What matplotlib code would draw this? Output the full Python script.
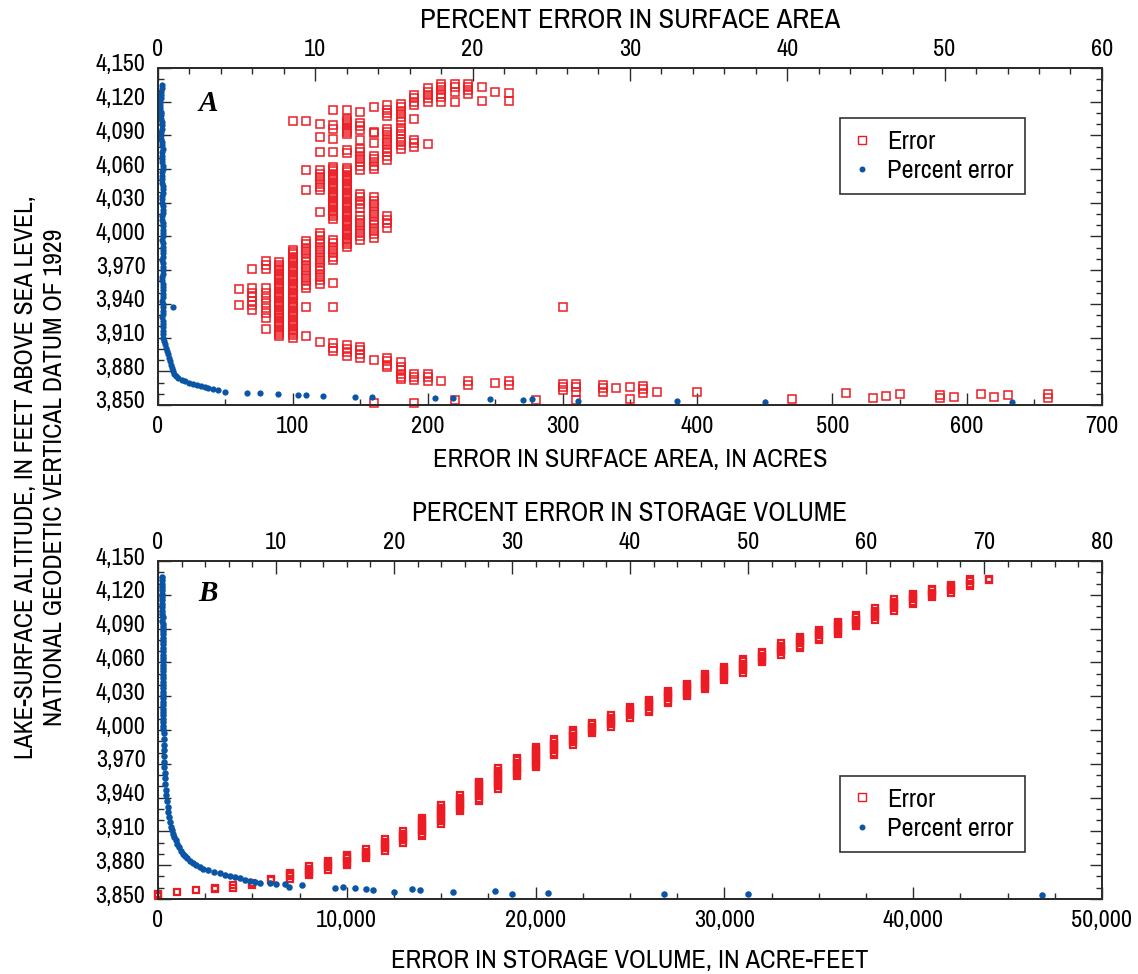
import matplotlib
matplotlib.use("Agg")
import matplotlib.pyplot as plt
import matplotlib.ticker as mticker
from matplotlib.lines import Line2D
from matplotlib.transforms import ScaledTranslation

plt.rcParams['font.family'] = ['Archivo Narrow', 'DejaVu Sans']

RED = '#ec1c24'
BLUE = '#0a55a5'
INK = '#2b2b2b'

# ---- panel A: error in surface area (acres) by lake altitude ----
area_cols = [60, 70, 80, 90, 100, 110, 120, 130, 140, 150, 160, 170, 180, 190,
             200, 210, 220, 230, 240, 250, 260, 280, 300, 310, 330, 340, 350,
             360, 370, 400, 470, 510, 530, 540, 550, 580, 590, 610, 620, 630, 660]
area_col_alts = [
    [3953, 3939],
    [3971, 3954, 3950, 3946, 3943, 3939, 3935],
    [3978, 3975, 3971, 3954, 3950, 3945, 3941, 3936, 3932, 3927, 3918],
    [3977, 3975, 3973, 3971, 3969, 3967, 3965, 3963, 3961, 3959, 3957, 3955,
     3953, 3951, 3949, 3947, 3945, 3943, 3941, 3939, 3937, 3935, 3933, 3931,
     3929, 3927, 3925, 3923, 3921, 3919, 3917, 3915, 3913, 3911],
    [4103, 3988, 3986, 3984, 3982, 3980, 3978, 3976, 3974, 3972, 3970, 3968,
     3966, 3964, 3962, 3960, 3958, 3956, 3954, 3952, 3950, 3948, 3946, 3944,
     3942, 3940, 3938, 3936, 3934, 3932, 3930, 3928, 3926, 3924, 3922, 3920,
     3918, 3916, 3914, 3912, 3910],
    [4103, 4059, 4041, 3996, 3993, 3990, 3987, 3984, 3981, 3978, 3975, 3972,
     3969, 3966, 3963, 3960, 3957, 3954, 3937, 3911],
    [4100, 4089, 4075, 4059, 4056, 4053, 4050, 4047, 4044, 4041, 4022, 4003,
     4000, 3997, 3994, 3991, 3988, 3985, 3982, 3979, 3976, 3973, 3970, 3967,
     3964, 3961, 3958, 3906],
    [4113, 4099, 4096, 4087, 4075, 4062, 4060, 4058, 4056, 4054, 4052, 4050,
     4048, 4046, 4044, 4042, 4040, 4038, 4036, 4034, 4032, 4030, 4028, 4026,
     4024, 4022, 4020, 4018, 4016, 3997, 3994, 3991, 3988, 3985, 3982, 3979,
     3959, 3937, 3905, 3901, 3898],
    [4113, 4105, 4103, 4101, 4099, 4097, 4095, 4093, 4091, 4077, 4074, 4061,
     4059, 4057, 4055, 4053, 4051, 4049, 4047, 4045, 4043, 4041, 4039, 4037,
     4035, 4033, 4031, 4029, 4027, 4025, 4023, 4021, 4019, 4017, 4015, 4013,
     4011, 4009, 4007, 4005, 4003, 4001, 3999, 3997, 3995, 3993, 3991, 3903,
     3900, 3897, 3894],
    [4111, 4101, 4098, 4095, 4086, 4078, 4075, 4072, 4069, 4066, 4063, 4059,
     4038, 4035, 4032, 4029, 4025, 4018, 4015, 4012, 4009, 4006, 4003, 4000,
     3997, 3902, 3899, 3895, 3892],
    [4115, 4093, 4092, 4083, 4072, 4069, 4066, 4063, 4060, 4035, 4032, 4029,
     4026, 4023, 4020, 4017, 4014, 4011, 4008, 4005, 4002, 3999, 3890, 3852],
    [4117, 4113, 4110, 4107, 4096, 4093, 4090, 4087, 4084, 4081, 4078, 4075,
     4072, 4068, 4018, 4015, 4012, 4008, 3892, 3889, 3886, 3884],
    [4118, 4115, 4112, 4109, 4106, 4103, 4097, 4094, 4091, 4087, 4084, 4081,
     4078, 3888, 3884, 3881, 3878, 3875, 3873],
    [4126, 4123, 4120, 4117, 4105, 4086, 4083, 4080, 3878, 3875, 3872, 3852],
    [4132, 4129, 4126, 4123, 4120, 4082, 3878, 3875, 3871],
    [4136, 4133, 4130, 4127, 4124, 4120, 3871],
    [4136, 4133, 4129, 4120, 3854],
    [4136, 4133, 4130, 4127, 3871, 3868],
    [4133, 4121],
    [4129, 3870],
    [4128, 4121, 3871, 3868],
    [3854],
    [3937, 3869, 3866, 3863],
    [3869, 3866, 3862, 3854],
    [3868, 3865, 3862],
    [3865],
    [3866, 3855],
    [3867, 3864, 3861],
    [3862],
    [3862],
    [3855],
    [3861],
    [3856],
    [3858],
    [3860],
    [3859, 3856],
    [3857],
    [3860],
    [3857],
    [3859],
    [3860, 3856],
]

# percent error in surface area
area_pct_alt = [
    4135, 4132, 4129, 4126, 4123, 4120, 4117, 4114, 4111, 4108,
    4105, 4102, 4099, 4096, 4093, 4090, 4087, 4084, 4081, 4078,
    4075, 4072, 4069, 4066, 4063, 4060, 4057, 4054, 4051, 4048,
    4045, 4042, 4039, 4036, 4033, 4030, 4027, 4024, 4021, 4018,
    4015, 4012, 4009, 4006, 4003, 4000, 3997, 3994, 3991, 3988,
    3985, 3982, 3979, 3976, 3973, 3970, 3967, 3964, 3961, 3958,
    3955, 3952, 3949, 3946, 3943, 3940, 3937, 3934, 3931, 3928,
    3925, 3922, 3919, 3916,
    3913, 3910, 3907, 3904, 3901, 3898, 3895, 3892, 3889, 3886,
    3883, 3880, 3878, 3876, 3874, 3872.5, 3871, 3870, 3869, 3868,
    3867, 3866, 3865, 3864, 3863, 3861.6, 3860.7, 3860.7, 3859.8, 3858.9,
    3858.9, 3858.0, 3857.1, 3857.1, 3856.2, 3856.2, 3855.3, 3854.5, 3855.3, 3853.6,
    3853.6, 3852.7, 3852.7, 3937,
]
area_pct = [
    0.27, 0.25, 0.22, 0.20, 0.18, 0.15, 0.14, 0.16, 0.18, 0.20,
    0.22, 0.25, 0.27, 0.24, 0.21, 0.19, 0.22, 0.26, 0.28, 0.30,
    0.28, 0.25, 0.23, 0.26, 0.29, 0.31, 0.28, 0.26, 0.24, 0.27,
    0.30, 0.32, 0.29, 0.27, 0.25, 0.28, 0.31, 0.33, 0.30, 0.28,
    0.26, 0.29, 0.32, 0.34, 0.31, 0.29, 0.27, 0.30, 0.33, 0.35,
    0.32, 0.30, 0.28, 0.31, 0.34, 0.32, 0.30, 0.28, 0.27, 0.29,
    0.31, 0.33, 0.31, 0.29, 0.28, 0.30, 0.32, 0.30, 0.29, 0.28,
    0.29, 0.30, 0.29, 0.29,
    0.30, 0.34, 0.40, 0.45, 0.52, 0.58, 0.65, 0.72, 0.78, 0.84,
    0.90, 0.96, 1.05, 1.15, 1.30, 1.50, 1.70, 1.95, 2.20, 2.50,
    2.75, 3.00, 3.20, 3.50, 3.80, 4.26, 5.66, 6.48, 7.63, 8.90,
    9.41, 10.49, 12.52, 13.60, 17.6, 18.75, 21.1, 23.2, 23.8, 26.7,
    33.0, 38.6, 54.3, 0.93,
]

# ---- panel B: error in storage volume (acre-feet) by lake altitude ----
vol_cols = [0, 1000, 2000, 3000, 4000, 5000, 6000, 7000, 8000, 9000, 10000,
            11000, 12000, 13000, 14000, 15000, 16000, 17000, 18000, 19000,
            20000, 21000, 22000, 23000, 24000, 25000, 26000, 27000, 28000,
            29000, 30000, 31000, 32000, 33000, 34000, 35000, 36000, 37000,
            38000, 39000, 40000, 41000, 42000, 43000, 44000]
vol_col_alts = [
    [3853, 3854],
    [3856],
    [3858],
    [3859, 3860],
    [3860, 3862],
    [3862, 3864],
    [3867, 3868],
    [3868, 3870, 3872, 3873],
    [3871, 3873, 3875, 3877, 3879],
    [3876, 3878, 3880, 3882, 3884],
    [3880, 3882, 3884, 3886, 3888, 3889],
    [3886, 3888, 3890, 3892, 3894],
    [3893, 3895, 3897, 3899, 3901, 3903],
    [3900, 3902, 3904, 3906, 3908, 3910],
    [3906, 3908, 3910, 3912, 3914, 3916, 3918, 3920, 3922],
    [3917, 3919, 3921, 3923, 3925, 3927, 3929, 3931, 3933],
    [3928, 3930, 3932, 3934, 3936, 3938, 3940, 3942],
    [3937, 3939, 3941, 3943, 3945, 3947, 3949, 3951, 3953, 3954],
    [3948, 3950, 3952, 3954, 3956, 3958, 3960, 3962, 3964, 3966],
    [3959, 3961, 3963, 3965, 3967, 3969, 3971, 3973, 3975],
    [3967, 3969, 3971, 3973, 3975, 3977, 3979, 3981, 3983, 3985],
    [3978, 3980, 3982, 3984, 3986, 3988, 3990, 3992],
    [3987, 3989, 3991, 3993, 3995, 3997, 3999, 4000],
    [3997, 3999, 4001, 4003, 4005, 4006],
    [4003, 4005, 4007, 4009, 4011, 4013],
    [4011, 4013, 4015, 4017, 4019, 4020],
    [4016, 4018, 4020, 4022, 4024, 4026, 4027],
    [4024, 4026, 4028, 4030, 4032, 4034, 4035],
    [4030, 4032, 4034, 4036, 4038, 4040, 4041],
    [4036, 4038, 4040, 4042, 4044, 4046, 4048, 4050],
    [4044, 4046, 4048, 4050, 4052, 4054, 4056],
    [4051, 4053, 4055, 4057, 4059, 4061, 4063],
    [4060, 4062, 4064, 4066, 4068, 4069],
    [4067, 4069, 4071, 4073, 4075, 4077],
    [4073, 4075, 4077, 4079, 4081, 4083],
    [4080, 4082, 4084, 4086, 4088, 4089],
    [4085, 4087, 4089, 4091, 4093, 4095, 4096],
    [4092, 4094, 4096, 4098, 4100, 4102],
    [4098, 4100, 4102, 4104, 4106, 4108],
    [4106, 4108, 4110, 4112, 4114, 4116],
    [4112, 4114, 4116, 4118, 4120, 4121],
    [4118, 4120, 4122, 4124, 4125],
    [4122, 4124, 4126, 4128, 4129],
    [4128, 4130, 4132, 4134],
    [4133, 4134],
]

# percent error in storage volume
vol_pct_alt = [
    4136, 4133, 4130, 4127, 4124, 4121, 4118, 4115, 4112, 4109,
    4106, 4103, 4100, 4097, 4094, 4091, 4088, 4085, 4082, 4079,
    4076, 4073, 4070, 4067, 4064, 4061, 4058, 4055, 4052, 4049,
    4046, 4043, 4040, 4037, 4034, 4031, 4028, 4025, 4022, 4019,
    4016, 4013, 4010, 4007, 4004, 4001,
    3997, 3992, 3987, 3982, 3977, 3972, 3967, 3962, 3957, 3952,
    3947, 3942, 3937, 3932, 3927, 3923, 3918, 3914, 3911, 3908,
    3905, 3902, 3899, 3896, 3893, 3890, 3888, 3886, 3884, 3882,
    3880, 3878.7, 3877, 3875.7, 3874, 3872.8, 3871.5, 3870.4, 3869.3, 3868.3,
    3867.3, 3866.3, 3865.4, 3864.5, 3863.9, 3863.3, 3863.3, 3861, 3862.4, 3859.5,
    3861, 3860, 3858.9, 3858, 3856.5, 3858.9, 3858, 3855.9, 3857.1, 3854.4,
    3855.6, 3854.1, 3854.1, 3853.3,
]
vol_pct = [
    0.33, 0.34, 0.35, 0.36, 0.35, 0.36, 0.37, 0.36, 0.37, 0.38,
    0.37, 0.38, 0.39, 0.38, 0.39, 0.40, 0.39, 0.40, 0.40, 0.41,
    0.40, 0.41, 0.41, 0.42, 0.41, 0.42, 0.42, 0.43, 0.42, 0.43,
    0.43, 0.43, 0.44, 0.43, 0.44, 0.44, 0.44, 0.45, 0.44, 0.45,
    0.45, 0.45, 0.45, 0.46, 0.46, 0.46,
    0.47, 0.49, 0.50, 0.51, 0.52, 0.53, 0.54, 0.56, 0.58, 0.62,
    0.66, 0.70, 0.77, 0.82, 0.88, 0.93, 1.00, 1.07, 1.17, 1.30,
    1.40, 1.52, 1.65, 1.80, 1.97, 2.15, 2.30, 2.49, 2.70, 2.95,
    3.25, 3.56, 3.85, 4.27, 4.75, 5.25, 5.65, 6.10, 6.50, 6.95,
    7.40, 7.80, 8.20, 8.64, 9.50, 10.0, 10.76, 11.13, 12.23, 15.0,
    15.65, 16.7, 17.63, 18.2, 20.03, 21.5, 22.2, 25.0, 28.56, 29.97,
    33.08, 42.9, 49.98, 74.96,
]


def flatten(cols, col_alts):
    xs, ys = [], []
    for x, alts in zip(cols, col_alts):
        for a in alts:
            xs.append(x)
            ys.append(a)
    return xs, ys


def style_axes(ax, top, xmax, xmajor, xminor, tmax, tmajor, tminor, fmt_x):
    ax.set_ylim(3850, 4150)
    ax.set_xlim(0, xmax)
    top.set_xlim(0, tmax)
    ax.yaxis.set_major_locator(mticker.MultipleLocator(30, offset=10))
    ax.yaxis.set_minor_locator(mticker.MultipleLocator(10))
    ax.yaxis.set_major_formatter(mticker.FuncFormatter(lambda v, p: f'{v:,.0f}'))
    ax.xaxis.set_major_locator(mticker.MultipleLocator(xmajor))
    ax.xaxis.set_minor_locator(mticker.MultipleLocator(xminor))
    ax.xaxis.set_major_formatter(mticker.FuncFormatter(fmt_x))
    top.xaxis.set_major_locator(mticker.MultipleLocator(tmajor))
    top.xaxis.set_minor_locator(mticker.MultipleLocator(tminor))
    for a in (ax, top):
        for s in a.spines.values():
            s.set_linewidth(1.3)
            s.set_color(INK)
    ax.tick_params(axis='both', which='both', direction='in', color=INK,
                   width=1.0, labelsize=17.5, labelcolor='black')
    ax.tick_params(axis='y', which='both', left=True, right=True, pad=9)
    ax.tick_params(axis='x', which='both', top=False, pad=8)
    ax.tick_params(which='major', length=9)
    ax.tick_params(which='minor', length=4.5)
    top.tick_params(axis='x', which='both', direction='in', color=INK,
                    width=1.0, labelsize=17.5, pad=6)
    top.tick_params(which='major', length=9)
    top.tick_params(which='minor', length=4.5)
    # tick labels sit a little above their ticks in the original
    off = ScaledTranslation(0, 5 / 100, ax.figure.dpi_scale_trans)
    for lab in ax.get_yticklabels():
        lab.set_transform(lab.get_transform() + off)


def add_legend(ax, y_top):
    handles = [
        Line2D([], [], ls='none', marker='s', ms=5.5, mfc='white', mec=RED, mew=1.0),
        Line2D([], [], ls='none', marker='o', ms=4.3, mfc=BLUE, mec=BLUE, mew=0),
    ]
    leg = ax.legend(handles, ['Error', 'Percent error'], loc='upper left',
                    bbox_to_anchor=(0.722, y_top), borderaxespad=0,
                    fontsize=19, frameon=True, fancybox=False, handlelength=0.8,
                    handletextpad=0.55, borderpad=0.45, labelspacing=0.25)
    leg.get_frame().set_edgecolor('black')
    leg.get_frame().set_linewidth(1.2)
    leg.set_zorder(10)


fig = plt.figure(figsize=(11.38, 9.74), dpi=100)
axA = fig.add_axes([0.1388, 0.5842, 0.8295, 0.3460])
axB = fig.add_axes([0.1388, 0.0770, 0.8295, 0.3470])
topA = axA.twiny()
topB = axB.twiny()

# panel A
xa, ya = flatten(area_cols, area_col_alts)
axA.plot(xa, ya, ls='none', marker='s', ms=5.2, mfc='none', mec=RED, mew=1.1,
         clip_on=False)
topA.plot(area_pct, area_pct_alt, ls='none', marker='o', ms=4.5, mfc=BLUE,
          mec=BLUE, mew=0, clip_on=False)
style_axes(axA, topA, 700, 100, 50, 60, 10, 2, lambda v, p: f'{v:.0f}')
axA.set_xlabel('ERROR IN SURFACE AREA, IN ACRES', fontsize=19, labelpad=8)
topA.set_xlabel('PERCENT ERROR IN SURFACE AREA', fontsize=20.5, labelpad=8)
axA.text(0.053, 0.895, 'A', transform=axA.transAxes, fontsize=21,
         fontweight='bold', fontstyle='italic', family='Liberation Serif',
         ha='center', va='center')
add_legend(topA, 0.852)

# panel B
xb, yb = flatten(vol_cols, vol_col_alts)
axB.plot(xb, yb, ls='none', marker='s', ms=5.0, mfc='none', mec=RED, mew=1.6,
         clip_on=False)
topB.plot(vol_pct, vol_pct_alt, ls='none', marker='o', ms=4.7, mfc=BLUE,
          mec=BLUE, mew=0, clip_on=False)
style_axes(axB, topB, 50000, 10000, 2500, 80, 10, 2, lambda v, p: f'{v:,.0f}')
axB.set_xlabel('ERROR IN STORAGE VOLUME, IN ACRE-FEET', fontsize=19, labelpad=13)
topB.set_xlabel('PERCENT ERROR IN STORAGE VOLUME', fontsize=19.5, labelpad=8)
axB.text(0.053, 0.905, 'B', transform=axB.transAxes, fontsize=21,
         fontweight='bold', fontstyle='italic', family='Liberation Serif',
         ha='center', va='center')
add_legend(topB, 0.365)

fig.text(0.035, 0.51,
         'LAKE-SURFACE ALTITUDE, IN FEET ABOVE SEA LEVEL,\n'
         'NATIONAL GEODETIC VERTICAL DATUM OF 1929',
         rotation=90, ha='center', va='center', multialignment='center',
         fontsize=18.5, linespacing=1.35)

fig.savefig('out.png', dpi=100)
